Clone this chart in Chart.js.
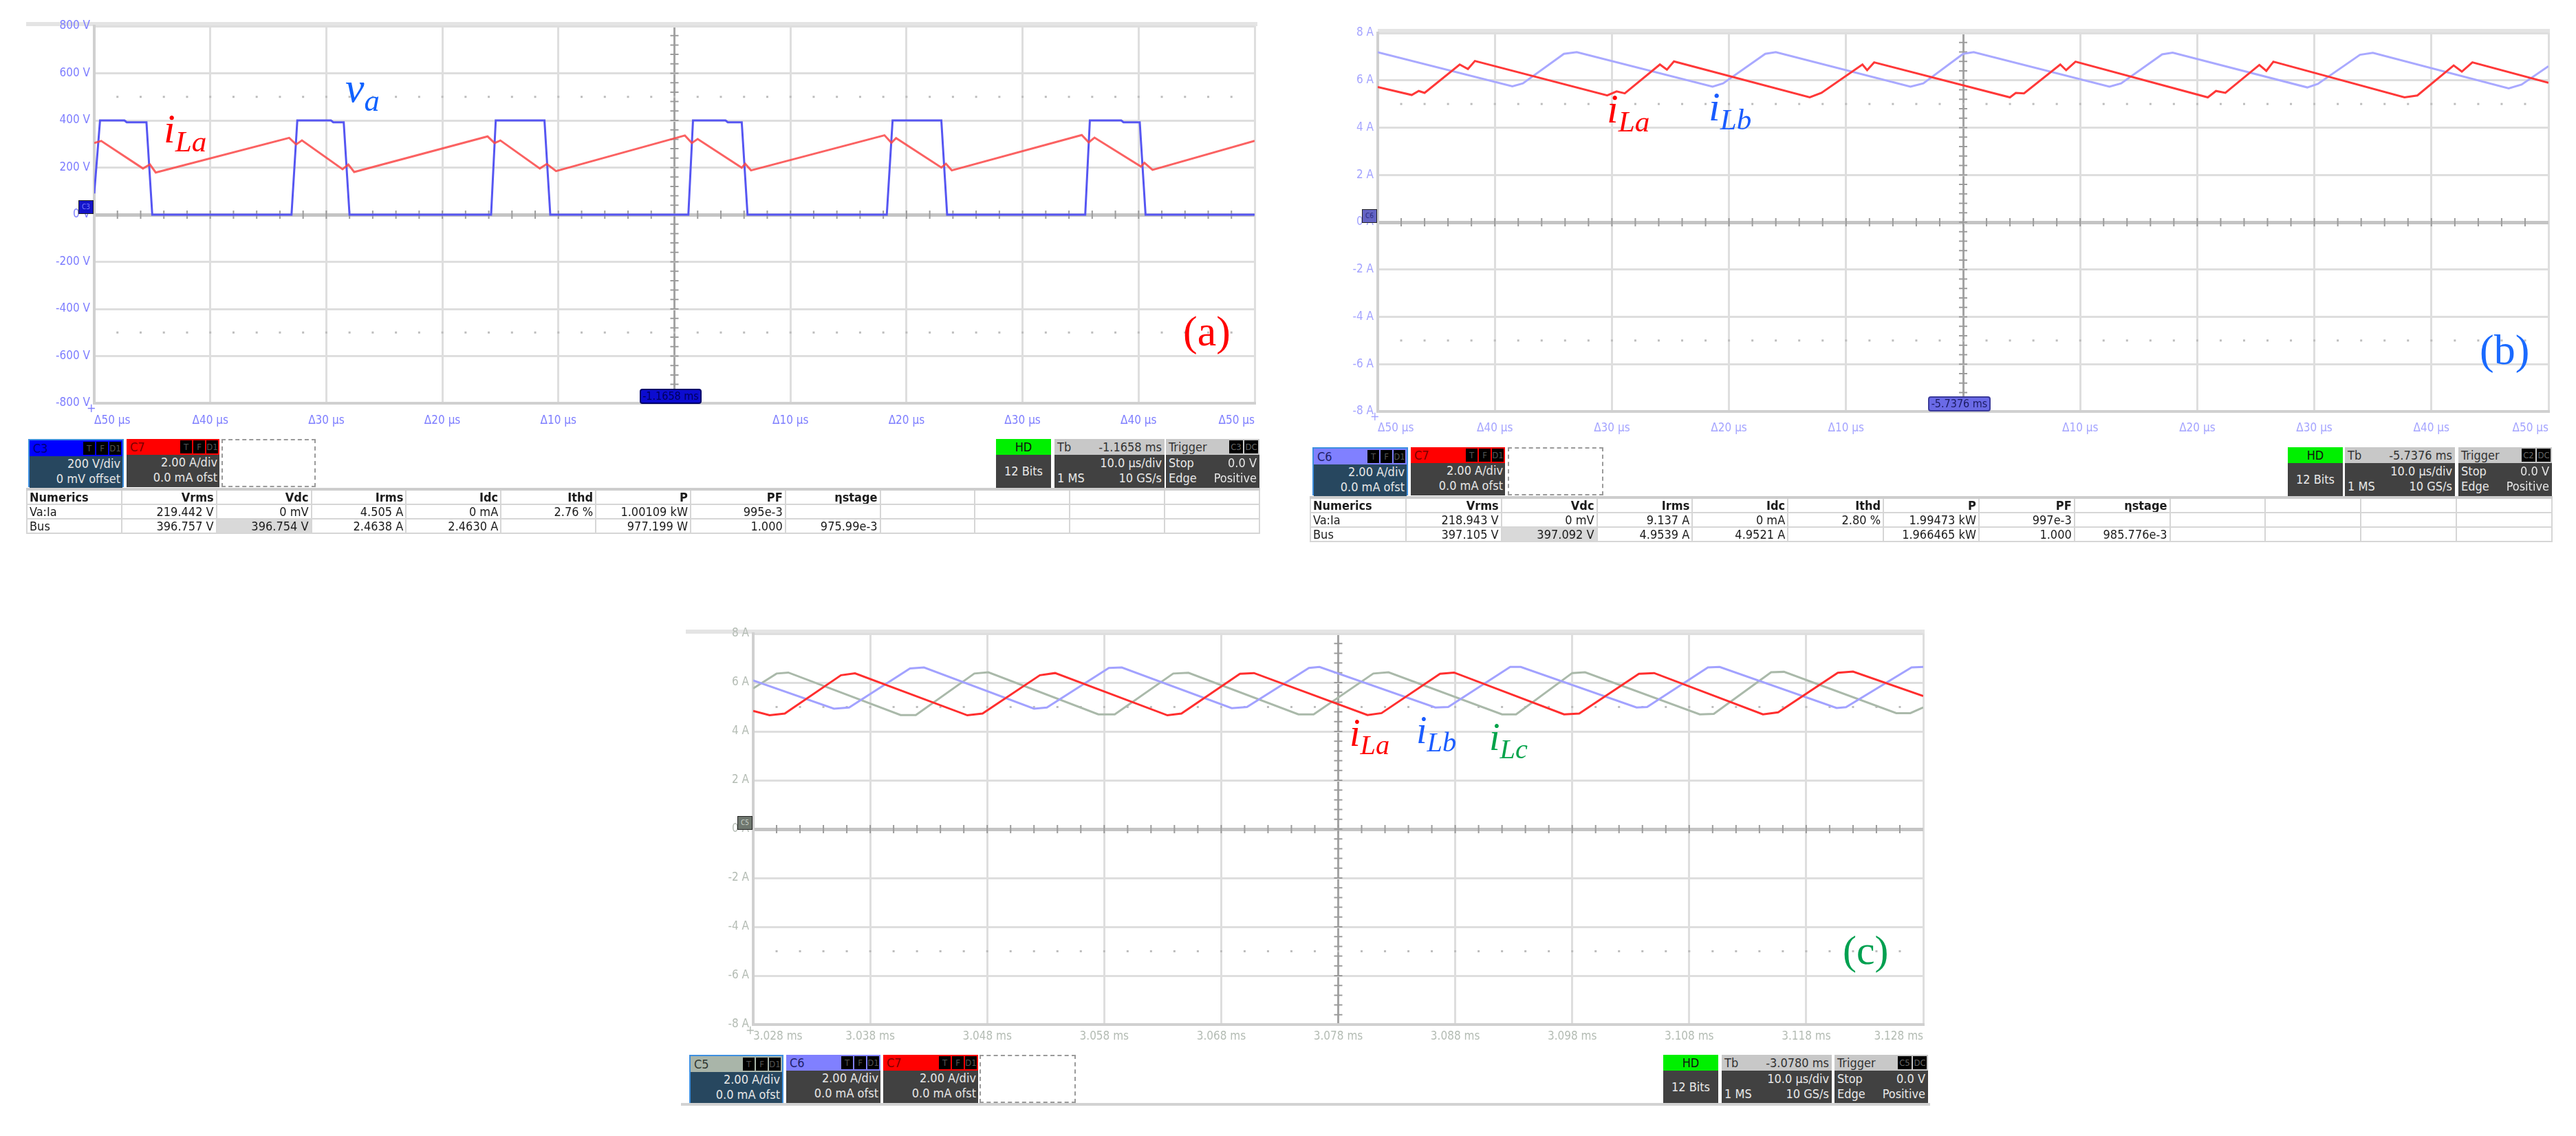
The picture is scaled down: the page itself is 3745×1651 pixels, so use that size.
<!DOCTYPE html>
<html lang="en">
<head>
<meta charset="utf-8">
<title>Inductor currents - scope captures</title>
<script src="https://cdn.jsdelivr.net/npm/chart.js@4.4.1/dist/chart.umd.min.js"></script>
<style>
  html, body { margin: 0; padding: 0; background: #fff; }
  body {
    position: relative; width: 3745px; height: 1651px; overflow: hidden;
    font-family: "Liberation Sans Narrow", "DejaVu Sans Condensed", "Liberation Sans", Arial, sans-serif;
  }
  canvas { position: absolute; }
  .frameTop { position: absolute; height: 6px; background: #e4e4e4; }

  /* waveform names, serif italic like the paper */
  .lbl { position: absolute; font-family: "Liberation Serif", "Times New Roman", serif; font-style: italic; line-height: 1; white-space: nowrap; }
  .lbl sub { font-size: 0.72em; position: relative; top: 0.3em; vertical-align: baseline; }
  .tag { position: absolute; font-family: "Liberation Serif", "Times New Roman", serif; line-height: 1; }
  .plus { position: absolute; font-size: 18px; line-height: 1; }

  .zero { position: absolute; width: 22px; height: 20px; font-size: 10px; line-height: 18px; text-align: center; box-sizing: border-box; border: 1px solid #222; }
  .tbox { position: absolute; height: 22px; border-radius: 4px; font-size: 16px; line-height: 18px; text-align: center; box-sizing: border-box; }

  /* channel descriptor boxes */
  .ch { position: absolute; height: 70px; box-sizing: border-box; font-size: 18px; }
  .ch.sel { border: 2px solid #3d8fe0; }
  .ch .hd { height: 23px; line-height: 23px; padding-left: 5px; position: relative; }
  .ch .bdg { position: absolute; right: 2px; top: 2px; display: flex; gap: 2px; }
  .ch .bdg i { font-style: normal; background: #000; color: #555; min-width: 17px; height: 19px; font-size: 13px; line-height: 19px; text-align: center; }
  .ch .bd { height: 47px; color: #e6e6e6; text-align: right; padding-right: 3px; line-height: 22px; }
  .ch.dot { border: 2px dashed #9a9a9a; background: #fff; }

  /* acquisition boxes */
  .acq { position: absolute; height: 70px; font-size: 18px; box-sizing: border-box; }
  .acq .hd { height: 23px; line-height: 23px; background: #c8c8c8; color: #333; position: relative; padding: 0 4px; }
  .acq .bd { height: 47px; background: #414141; color: #e8e8e8; line-height: 22px; padding: 1px 4px; position: relative; }
  .acq .r { position: absolute; right: 4px; }
  .acq .bdg { position: absolute; right: 2px; top: 2px; display: flex; gap: 2px; }
  .acq .bdg i { font-style: normal; background: #000; color: #666; min-width: 20px; height: 19px; font-size: 13px; line-height: 19px; text-align: center; }

  table.num { position: absolute; border-collapse: collapse; table-layout: fixed; font-size: 18px; color: #1b1b1b; border-top: 4px solid #cdcdcd; }
  table.num td, table.num th { border: 2px solid #d6d6d6; height: 19px; line-height: 19px; padding: 0 3px; text-align: right; white-space: nowrap; overflow: hidden; }
  table.num th { font-weight: bold; }
  table.num td:first-child, table.num th:first-child { text-align: left; }
  table.num td.hl { background: #d9d9d9; }
  .rule { position: absolute; height: 4px; background: #d2d2d2; }
</style>
</head>
<body>

<!-- (a) va and iLa -->
<div class="frameTop" style="left:38px;top:32px;width:1790px"></div>
<canvas id="scopeA" width="1840" height="640" style="left:0;top:0"></canvas>
<div class="plus" style="left:126px;top:584px;color:#7e7eff">+</div>
<div class="zero" style="left:114px;top:291px;background:#1414c8;color:#7a7aff">C3</div>
<div class="tbox" style="left:930px;top:565px;width:90px;background:#0c0cd0;border:2px solid #00006a;color:#00005a">-1.1658 ms</div>
<div class="lbl" style="left:238px;top:157px;font-size:60px;color:#ff0000">i<sub>La</sub></div>
<div class="lbl" style="left:502px;top:96px;font-size:62px;color:#1062ff">v<sub>a</sub></div>
<div class="tag" style="left:1720px;top:450px;font-size:62px;color:#ff0000">(a)</div>

<!-- (b) iLa and iLb -->
<div class="frameTop" style="left:2003px;top:42px;width:1704px"></div>
<canvas id="scopeB" width="1870" height="660" style="left:1860px;top:0"></canvas>
<div class="plus" style="left:1992px;top:596px;color:#a4a4ff">+</div>
<div class="zero" style="left:1980px;top:304px;background:#6464c4;color:#2a2a80">C6</div>
<div class="tbox" style="left:2803px;top:576px;width:91px;background:#6a6ae6;border:2px solid #3a3a9a;color:#1a1a60">-5.7376 ms</div>
<div class="lbl" style="left:2336px;top:128px;font-size:60px;color:#ff0000">i<sub>La</sub></div>
<div class="lbl" style="left:2484px;top:125px;font-size:60px;color:#1a5cff">i<sub>Lb</sub></div>
<div class="tag" style="left:3605px;top:477px;font-size:62px;color:#1a6aff">(b)</div>

<!-- (c) three phase currents -->
<div class="frameTop" style="left:997px;top:915px;width:1801px"></div>
<canvas id="scopeC" width="1870" height="660" style="left:950px;top:870px"></canvas>
<div class="plus" style="left:1084px;top:1488px;color:#b4bcb4">+</div>
<div class="zero" style="left:1072px;top:1186px;background:#6f776f;color:#c8d0c8">C5</div>
<div class="lbl" style="left:1962px;top:1037px;font-size:56px;color:#ff0000">i<sub>La</sub></div>
<div class="lbl" style="left:2059px;top:1033px;font-size:56px;color:#1a5cff">i<sub>Lb</sub></div>
<div class="lbl" style="left:2165px;top:1043px;font-size:56px;color:#00a34a">i<sub>Lc</sub></div>
<div class="tag" style="left:2679px;top:1351px;font-size:60px;color:#00a050">(c)</div>

<div id="strips"></div>

<script>
// ---------- (a) phase voltage va and inductor current iLa ----------
const aTicksX = ['Δ50 µs', 'Δ40 µs', 'Δ30 µs', 'Δ20 µs', 'Δ10 µs', '', 'Δ10 µs', 'Δ20 µs', 'Δ30 µs', 'Δ40 µs', 'Δ50 µs'];
const aTicksY = ['-800 V', '-600 V', '-400 V', '-200 V', '0 V', '200 V', '400 V', '600 V', '800 V'];

// time in µs from screen centre
const aVaTime = [-50, -49.5, -47.4, -47.2, -45.5, -45.0, -33.0, -32.5, -29.6, -29.4, -28.5, -28.0,
                 -15.8, -15.4, -11.2, -10.7, 1.2, 1.6, 4.4, 4.6, 5.8, 6.3, 18.3, 18.8, 23.0, 23.5,
                 35.4, 35.8, 38.5, 38.7, 40.1, 40.6, 50];
const aVaVolt = [90, 400, 400, 392, 392, 0, 0, 400, 400, 392, 392, 0,
                 0, 400, 400, 0, 0, 400, 400, 392, 392, 0, 0, 400, 400, 0,
                 0, 400, 400, 392, 392, 0, 0];

const aIlaTime = [-50, -49.4, -45.8, -45.2, -44.7, -33.2, -32.6, -32.1, -28.6, -28.1, -27.6, -16.1,
                  -15.5, -15.0, -11.6, -11.0, -10.2, 0.9, 1.5, 2.0, 5.8, 6.1, 6.6, 18.1,
                  18.7, 19.1, 23.0, 23.4, 23.9, 35.1, 35.7, 36.2, 40.2, 40.5, 41.2, 50];
const aIlaAmp = [3.04, 3.13, 1.96, 2.13, 1.79, 3.26, 2.98, 3.15, 1.93, 2.13, 1.81, 3.32,
                 3.04, 3.15, 1.96, 2.15, 1.85, 3.36, 3.04, 3.21, 1.99, 2.16, 1.88, 3.37,
                 3.05, 3.25, 2.00, 2.16, 1.88, 3.38, 3.07, 3.27, 2.04, 2.20, 1.90, 3.13];

// ---------- (b) two interleaved inductor currents ----------
const bTicksX = aTicksX;
const ampTicksY = ['-8 A', '-6 A', '-4 A', '-2 A', '0 A', '2 A', '4 A', '6 A', '8 A'];

const bIlaTime = [-50, -47.1, -46.5, -46.0, -43.0, -42.3, -41.7, -30.4, -29.6, -28.9, -25.9, -25.3,
                  -24.7, -13.1, -12.1, -8.6, -8.2, -7.6, 4.0, 4.5, 5.2, 8.3, 8.8, 9.6,
                  20.9, 21.6, 22.4, 25.3, 25.9, 26.5, 37.7, 38.8, 41.9, 42.6, 43.5, 50];
const bIlaAmp = [5.72, 5.38, 5.55, 5.47, 6.67, 6.48, 6.82, 5.36, 5.53, 5.45, 6.67, 6.45,
                 6.80, 5.28, 5.47, 6.67, 6.43, 6.76, 5.28, 5.47, 5.45, 6.67, 6.43, 6.79,
                 5.28, 5.55, 5.47, 6.65, 6.40, 6.79, 5.28, 5.36, 6.63, 6.37, 6.76, 5.90];

const bIlbTime = [-50, -38.5, -37.6, -34.1, -33.0, -21.4, -20.5, -16.9, -16.0, -4.5, -3.4, 0.0,
                  0.9, 12.5, 13.5, 17.0, 17.9, 29.4, 30.3, 33.9, 35.0, 46.6, 47.7, 50];
const bIlbAmp = [7.19, 5.75, 5.87, 7.12, 7.19, 5.73, 5.87, 7.12, 7.19, 5.73, 5.87, 7.12,
                 7.19, 5.73, 5.87, 7.10, 7.17, 5.70, 5.85, 7.08, 7.16, 5.66, 5.82, 6.60];

// ---------- (c) three interleaved inductor currents ----------
const cTicksX = ['3.028 ms', '3.038 ms', '3.048 ms', '3.058 ms', '3.068 ms', '3.078 ms',
                 '3.088 ms', '3.098 ms', '3.108 ms', '3.118 ms', '3.128 ms'];

const cIlaTime = [-50, -48.6, -47.3, -42.5, -41.3, -31.7, -30.4, -25.5, -24.2, -14.6, -13.4, -8.4, -7.2,
                  2.5, 3.7, 8.7, 9.9, 19.3, 20.6, 25.7, 27.0, 36.3, 37.6, 42.7, 44.0, 50];
const cIlaAmp = [4.84, 4.66, 4.73, 6.30, 6.38, 4.66, 4.73, 6.30, 6.39, 4.66, 4.73, 6.36, 6.39,
                 4.67, 4.75, 6.36, 6.41, 4.70, 4.73, 6.36, 6.39, 4.70, 4.78, 6.40, 6.45, 5.45];

const cIlbTime = [-50, -43.1, -41.8, -36.6, -35.4, -26.0, -24.9, -19.6, -18.5, -9.1, -7.8, -2.5, -1.6,
                  8.3, 9.4, 14.7, 15.6, 25.5, 26.4, 31.6, 32.6, 42.6, 43.4, 49.0, 50];
const cIlbAmp = [6.09, 4.93, 4.98, 6.58, 6.62, 4.93, 4.98, 6.60, 6.62, 4.95, 5.00, 6.60, 6.64,
                 4.98, 5.00, 6.64, 6.64, 4.98, 5.00, 6.62, 6.64, 4.96, 4.99, 6.62, 6.64];

const cIlcTime = [-50, -48.0, -47.0, -37.4, -36.1, -31.1, -29.9, -20.5, -19.1, -14.1, -12.8, -3.4, -2.1,
                  3.0, 4.3, 14.0, 15.2, 20.0, 21.1, 30.9, 32.1, 37.0, 38.1, 47.7, 48.9, 50];
const cIlcAmp = [5.76, 6.37, 6.41, 4.67, 4.67, 6.37, 6.42, 4.70, 4.70, 6.37, 6.40, 4.70, 4.70,
                 6.37, 6.42, 4.70, 4.70, 6.39, 6.42, 4.70, 4.72, 6.42, 6.44, 4.75, 4.75, 4.98];

// ---------- numerics tables ----------
const numHead = ['Numerics', 'Vrms', 'Vdc', 'Irms', 'Idc', 'Ithd', 'P', 'PF', 'ηstage', '', '', '', ''];
const aRowVa  = ['Va:Ia', '219.442 V', '0 mV', '4.505 A', '0 mA', '2.76 %', '1.00109 kW', '995e-3', '', '', '', '', ''];
const aRowBus = ['Bus', '396.757 V', '396.754 V', '2.4638 A', '2.4630 A', '', '977.199 W', '1.000', '975.99e-3', '', '', '', ''];
const bRowVa  = ['Va:Ia', '218.943 V', '0 mV', '9.137 A', '0 mA', '2.80 %', '1.99473 kW', '997e-3', '', '', '', '', ''];
const bRowBus = ['Bus', '397.105 V', '397.092 V', '4.9539 A', '4.9521 A', '', '1.966465 kW', '1.000', '985.776e-3', '', '', '', ''];


Chart.defaults.font.family = '"Liberation Sans Narrow", "DejaVu Sans Condensed", "Liberation Sans", Arial, sans-serif';
Chart.defaults.font.size = 17;

const xy = (xs, ys) => xs.map((x, i) => ({ x, y: ys[i] }));

function trace(xs, ys, color, axis = 'y') {
    return { data: xy(xs, ys), borderColor: color, borderWidth: 3, pointRadius: 0, tension: 0, yAxisID: axis, fill: false };
}

// Graticule details of the scope: minor ticks on the centre cross and dotted rows at ±2.5 div
const scopeMarks = {
    id: 'scopeMarks',
    beforeDatasetsDraw(chart, args, opts) {
        const { ctx, chartArea: a, scales: { x, y } } = chart;
        const x0 = x.getPixelForValue(0);
        const y0 = y.getPixelForValue(0);
        const dx = (x.getPixelForValue(10) - x0) / 5;
        const dy = (y0 - y.getPixelForValue(opts.div)) / 5;
        ctx.save();
        ctx.strokeStyle = '#9c9c9c';
        ctx.lineWidth = 2;
        ctx.beginPath();
        for (let px = a.left + dx; px < a.right - 2; px += dx) { ctx.moveTo(px, y0 - 6); ctx.lineTo(px, y0 + 6); }
        for (let py = a.top + dy; py < a.bottom - 2; py += dy) { ctx.moveTo(x0 - 6, py); ctx.lineTo(x0 + 6, py); }
        ctx.stroke();
        ctx.fillStyle = '#bdbdbd';
        [2.5, -2.5].forEach(k => {
            const py = y.getPixelForValue(k * opts.div);
            for (let px = a.left + dx; px < a.right - 2; px += dx) ctx.fillRect(px - 1.5, py - 1.5, 3, 3);
        });
        ctx.restore();
    }
};

function makeScope(id, p) {
    const isZero = c => c.tick && c.tick.value === 0;
    return new Chart(document.getElementById(id), {
        type: 'line',
        data: { datasets: p.datasets },
        plugins: [scopeMarks],
        options: {
            responsive: false,
            animation: false,
            events: [],
            layout: { padding: { top: p.padTop, right: p.padRight, left: 0, bottom: 0 } },
            plugins: { legend: { display: false }, tooltip: { enabled: false }, scopeMarks: { div: p.yStep } },
            scales: {
                x: {
                    type: 'linear', min: -50, max: 50,
                    afterFit: s => { s.height = p.xHeight; },
                    ticks: {
                        stepSize: 10, autoSkip: false, maxRotation: 0, align: 'inner',
                        padding: p.xPad, color: p.tickColor,
                        callback: (v, i) => p.xLabels[i]
                    },
                    grid: { drawTicks: false, color: c => isZero(c) ? '#a4a4a4' : '#dedede', lineWidth: 3 },
                    border: { color: '#d0d0d0', width: 4 }
                },
                y: {
                    min: -4 * p.yStep, max: 4 * p.yStep,
                    afterFit: s => { s.width = p.yWidth; },
                    ticks: { stepSize: p.yStep, padding: 6, color: p.tickColor, callback: (v, i) => p.yLabels[i] },
                    grid: {
                        drawTicks: false,
                        color: c => isZero(c) ? '#c4c4c4' : '#dedede',
                        lineWidth: c => isZero(c) ? 5 : 3
                    },
                    border: { color: '#d0d0d0', width: 4 }
                },
                ...(p.extraScales || {})
            }
        }
    });
}

makeScope('scopeA', {
    padTop: 38, padRight: 16, xHeight: 54, yWidth: 137, xPad: 15, yStep: 200,
    tickColor: '#7e7eff', xLabels: aTicksX, yLabels: aTicksY,
    extraScales: { yA: { display: false, min: -8, max: 8 } },
    datasets: [
        trace(aIlaTime, aIlaAmp, 'rgba(250, 70, 70, 0.85)', 'yA'),
        trace(aVaTime, aVaVolt, '#5656f2')
    ]
});

makeScope('scopeB', {
    padTop: 48, padRight: 25, xHeight: 62, yWidth: 143, xPad: 14, yStep: 2,
    tickColor: '#a4a4ff', xLabels: bTicksX, yLabels: ampTicksY,
    datasets: [
        trace(bIlaTime, bIlaAmp, '#ff3838'),
        trace(bIlbTime, bIlbAmp, '#a9a9ff')
    ]
});

makeScope('scopeC', {
    padTop: 51, padRight: 24, xHeight: 41, yWidth: 145, xPad: 7, yStep: 2,
    tickColor: '#b4bcb4', xLabels: cTicksX, yLabels: ampTicksY,
    datasets: [
        trace(cIlaTime, cIlaAmp, '#ff2e2e'),
        trace(cIlbTime, cIlbAmp, '#a2a2ff'),
        trace(cIlcTime, cIlcAmp, '#aab9aa')
    ]
});


// ---------- scope info strips (channel boxes, timebase, numerics) ----------
function channelBox(x, y, w, name, head, nameColor, scale, offset, selected) {
    return `<div class="ch${selected ? ' sel' : ''}" style="left:${x}px;top:${y}px;width:${w}px">
        <div class="hd" style="background:${head};color:${nameColor}">${name}<span class="bdg"><i>T</i><i>F</i><i>D1</i></span></div>
        <div class="bd" style="background:${selected ? '#27475f' : '#414141'}">${scale}<br>${offset}</div></div>`;
}

function emptyBox(x, y, w) {
    return `<div class="ch dot" style="left:${x}px;top:${y}px;width:${w}px"></div>`;
}

function acqBoxes(y, hdX, tbX, trX, tb, src) {
    return `<div class="acq" style="left:${hdX}px;top:${y}px;width:80px;text-align:center">
            <div class="hd" style="background:#00f000;color:#111">HD</div>
            <div class="bd" style="line-height:45px">12 Bits</div></div>
        <div class="acq" style="left:${tbX}px;top:${y}px;width:160px">
            <div class="hd">Tb<span class="r">${tb}</span></div>
            <div class="bd"><span class="r">10.0 µs/div</span><br>1 MS<span class="r">10 GS/s</span></div></div>
        <div class="acq" style="left:${trX}px;top:${y}px;width:136px">
            <div class="hd">Trigger<span class="bdg"><i>${src}</i><i>DC</i></span></div>
            <div class="bd">Stop<span class="r">0.0 V</span><br>Edge<span class="r">Positive</span></div></div>`;
}

function numericsTable(x, y, w, rows) {
    const cell = (t, tag, cls = '') => `<${tag}${cls ? ` class="${cls}"` : ''}>${t}</${tag}>`;
    const head = '<tr>' + numHead.map(t => cell(t, 'th')).join('') + '</tr>';
    const body = rows.map(r => '<tr>' + r.map((t, i) => cell(t, 'td', (r[0] === 'Bus' && i === 2) ? 'hl' : '')).join('') + '</tr>').join('');
    const cols = numHead.map(() => `<col style="width:${(w / numHead.length).toFixed(2)}px">`).join('');
    return `<table class="num" style="left:${x}px;top:${y}px;width:${w}px"><colgroup>${cols}</colgroup>${head}${body}</table>`;
}

document.getElementById('strips').innerHTML = [
    // (a)
    channelBox(41, 638, 139, 'C3', '#0000ff', '#00007a', '200 V/div', '0 mV offset', true),
    channelBox(184, 638, 135, 'C7', '#ff0000', '#7a0000', '2.00 A/div', '0.0 mA ofst', false),
    emptyBox(322, 638, 137),
    acqBoxes(638, 1448, 1533, 1695, '-1.1658 ms', 'C3'),
    numericsTable(38, 709, 1792, [aRowVa, aRowBus]),
    // (b)
    channelBox(1908, 650, 139, 'C6', '#8080ff', '#20206a', '2.00 A/div', '0.0 mA ofst', true),
    channelBox(2051, 650, 137, 'C7', '#ff0000', '#7a0000', '2.00 A/div', '0.0 mA ofst', false),
    emptyBox(2192, 650, 139),
    acqBoxes(650, 3326, 3409, 3574, '-5.7376 ms', 'C2'),
    numericsTable(1904, 721, 1805, [bRowVa, bRowBus]),
    // (c)
    channelBox(1002, 1533, 137, 'C5', '#a9b5a9', '#303830', '2.00 A/div', '0.0 mA ofst', true),
    channelBox(1143, 1533, 137, 'C6', '#8080ff', '#20206a', '2.00 A/div', '0.0 mA ofst', false),
    channelBox(1284, 1533, 138, 'C7', '#ff0000', '#7a0000', '2.00 A/div', '0.0 mA ofst', false),
    emptyBox(1424, 1533, 140),
    acqBoxes(1533, 2418, 2503, 2667, '-3.0780 ms', 'C5'),
    `<div class="rule" style="left:990px;top:1603px;width:1816px"></div>`
].join('\n');
</script>
</body>
</html>
